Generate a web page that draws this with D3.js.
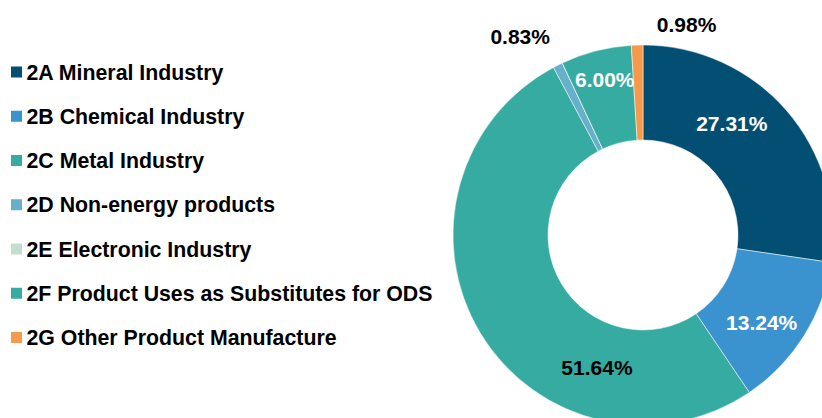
<!DOCTYPE html>
<html>
<head>
<meta charset="utf-8">
<script src="https://cdn.jsdelivr.net/npm/d3@7"></script>
<style>
  body { margin: 0; background: #fff; }
  svg { display: block; font-family: Arial, 'Liberation Sans', sans-serif; }
</style>
</head>
<body>
<svg width="822" height="418"></svg>
<script>
const categories = ['2A Mineral Industry', '2B Chemical Industry', '2C Metal Industry',
  '2D Non-energy products', '2E Electronic Industry',
  '2F Product Uses as Substitutes for ODS', '2G Other Product Manufacture']
const shares = [27.31, 13.24, 51.64, 0.83, 0, 6.00, 0.98]
const colors = ['#034f74', '#3a93cf', '#36aba1', '#68b0c9', '#c3ddcf', '#36aba1', '#f7994a']
const labelColors = ['#fff', '#fff', '#000', '#000', '#000', '#fff', '#000']
// manual label nudges from the slice centroid (labels were hand placed in the original)
const labelNudge = [[-19, -18], [-2, 12], [76, 59], [-59, -71], [0, 0], [-3, -17], [48, -68]]

const svg = d3.select('svg')
const cx = 643, cy = 235
const outerR = 190, innerR = 95

const rows = categories.map((c, i) => ({ name: c, value: shares[i], i }))

const pie = d3.pie().sort(null).value(d => d.value)
const arc = d3.arc().innerRadius(innerR).outerRadius(outerR)

const g = svg.append('g').attr('transform', 'translate(' + cx + ',' + cy + ')')

const arcs = pie(rows)

g.selectAll('path')
  .data(arcs)
  .enter().append('path')
    .attr('d', arc)
    .attr('fill', d => colors[d.data.i])
    .attr('stroke', '#fff')
    .attr('stroke-width', 0.5)

g.selectAll('text.lbl')
  .data(arcs.filter(d => d.data.value > 0))
  .enter().append('text')
    .attr('class', 'lbl')
    .attr('transform', d => {
      const c = arc.centroid(d)
      const n = labelNudge[d.data.i]
      return 'translate(' + (c[0] + n[0]) + ',' + (c[1] + n[1]) + ')'
    })
    .attr('text-anchor', 'middle')
    .attr('dy', '0.36em')
    .attr('font-size', 21)
    .attr('font-weight', 'bold')
    .attr('fill', d => labelColors[d.data.i])
    .text(d => d.data.value.toFixed(2) + '%')

// legend
const legendY = d3.scalePoint().domain(categories).range([72, 337.5])

const legend = svg.append('g')
const item = legend.selectAll('g')
  .data(rows)
  .enter().append('g')
    .attr('transform', d => 'translate(0,' + legendY(d.name) + ')')

item.append('rect')
  .attr('x', 11)
  .attr('y', -5.5)
  .attr('width', 11)
  .attr('height', 11)
  .attr('fill', d => colors[d.i])

item.append('text')
  .attr('x', 26.5)
  .attr('y', 7.5)
  .attr('font-size', 21.3)
  .attr('font-weight', 'bold')
  .attr('fill', '#000')
  .text(d => d.name)
</script>
</body>
</html>
